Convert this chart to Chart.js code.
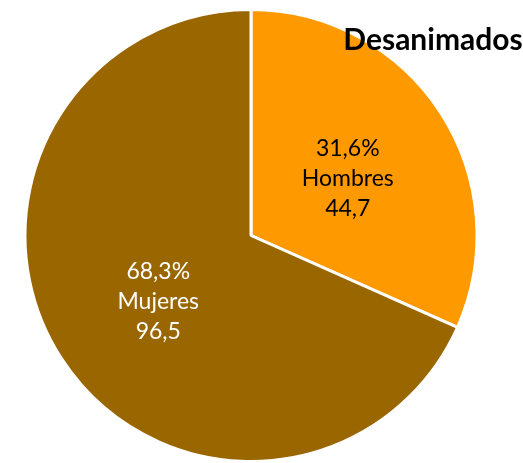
<!DOCTYPE html>
<html>
<head>
<meta charset="utf-8">
<script src="https://cdn.jsdelivr.net/npm/chart.js@4.4.1/dist/chart.umd.min.js"></script>
<style>
  html, body { margin: 0; padding: 0; background: #fff; }
  #wrap { width: 523px; height: 463px; }
</style>
</head>
<body>
<div id="wrap"><canvas id="chart" width="523" height="463"></canvas></div>
<script>
const labels = ['Hombres', 'Mujeres'];
const values = [44.7, 96.5];
const percents = ['31,6%', '68,3%'];
const valueText = ['44,7', '96,5'];
const colors = ['#FF9900', '#996600'];
const labelColors = ['#000000', '#FFFFFF'];
const title = 'Desanimados';

// labels inside each slice: percent, name, value
const sliceLabels = {
    id: 'sliceLabels',
    afterDatasetsDraw(chart) {
        const ctx = chart.ctx;
        const meta = chart.getDatasetMeta(0);
        ctx.save();
        ctx.font = '23px Lato';
        ctx.textAlign = 'center';
        ctx.textBaseline = 'middle';
        meta.data.forEach((arc, i) => {
            const pos = arc.tooltipPosition();
            const x = pos.x + 2, y = pos.y + 5;
            ctx.fillStyle = labelColors[i];
            ctx.fillText(percents[i], x, y - 30);
            ctx.fillText(labels[i], x, y);
            ctx.fillText(valueText[i], x, y + 30);
        });
        ctx.restore();
    }
};

const titleText = {
    id: 'titleText',
    afterDraw(chart) {
        const ctx = chart.ctx;
        ctx.save();
        ctx.font = 'bold 30px Lato';
        ctx.fillStyle = '#000';
        ctx.textAlign = 'center';
        ctx.textBaseline = 'middle';
        ctx.fillText(title, 433, 40);
        ctx.restore();
    }
};

new Chart(document.getElementById('chart'), {
    type: 'pie',
    data: {
        labels: labels,
        datasets: [{
            data: values,
            backgroundColor: colors,
            borderColor: '#ffffff',
            borderWidth: 3
        }]
    },
    options: {
        responsive: false,
        animation: false,
        layout: { padding: { left: 22, right: 43, top: 8, bottom: 0 } },
        plugins: {
            legend: { display: false },
            tooltip: { enabled: false }
        }
    },
    plugins: [sliceLabels, titleText]
});
</script>
</body>
</html>
